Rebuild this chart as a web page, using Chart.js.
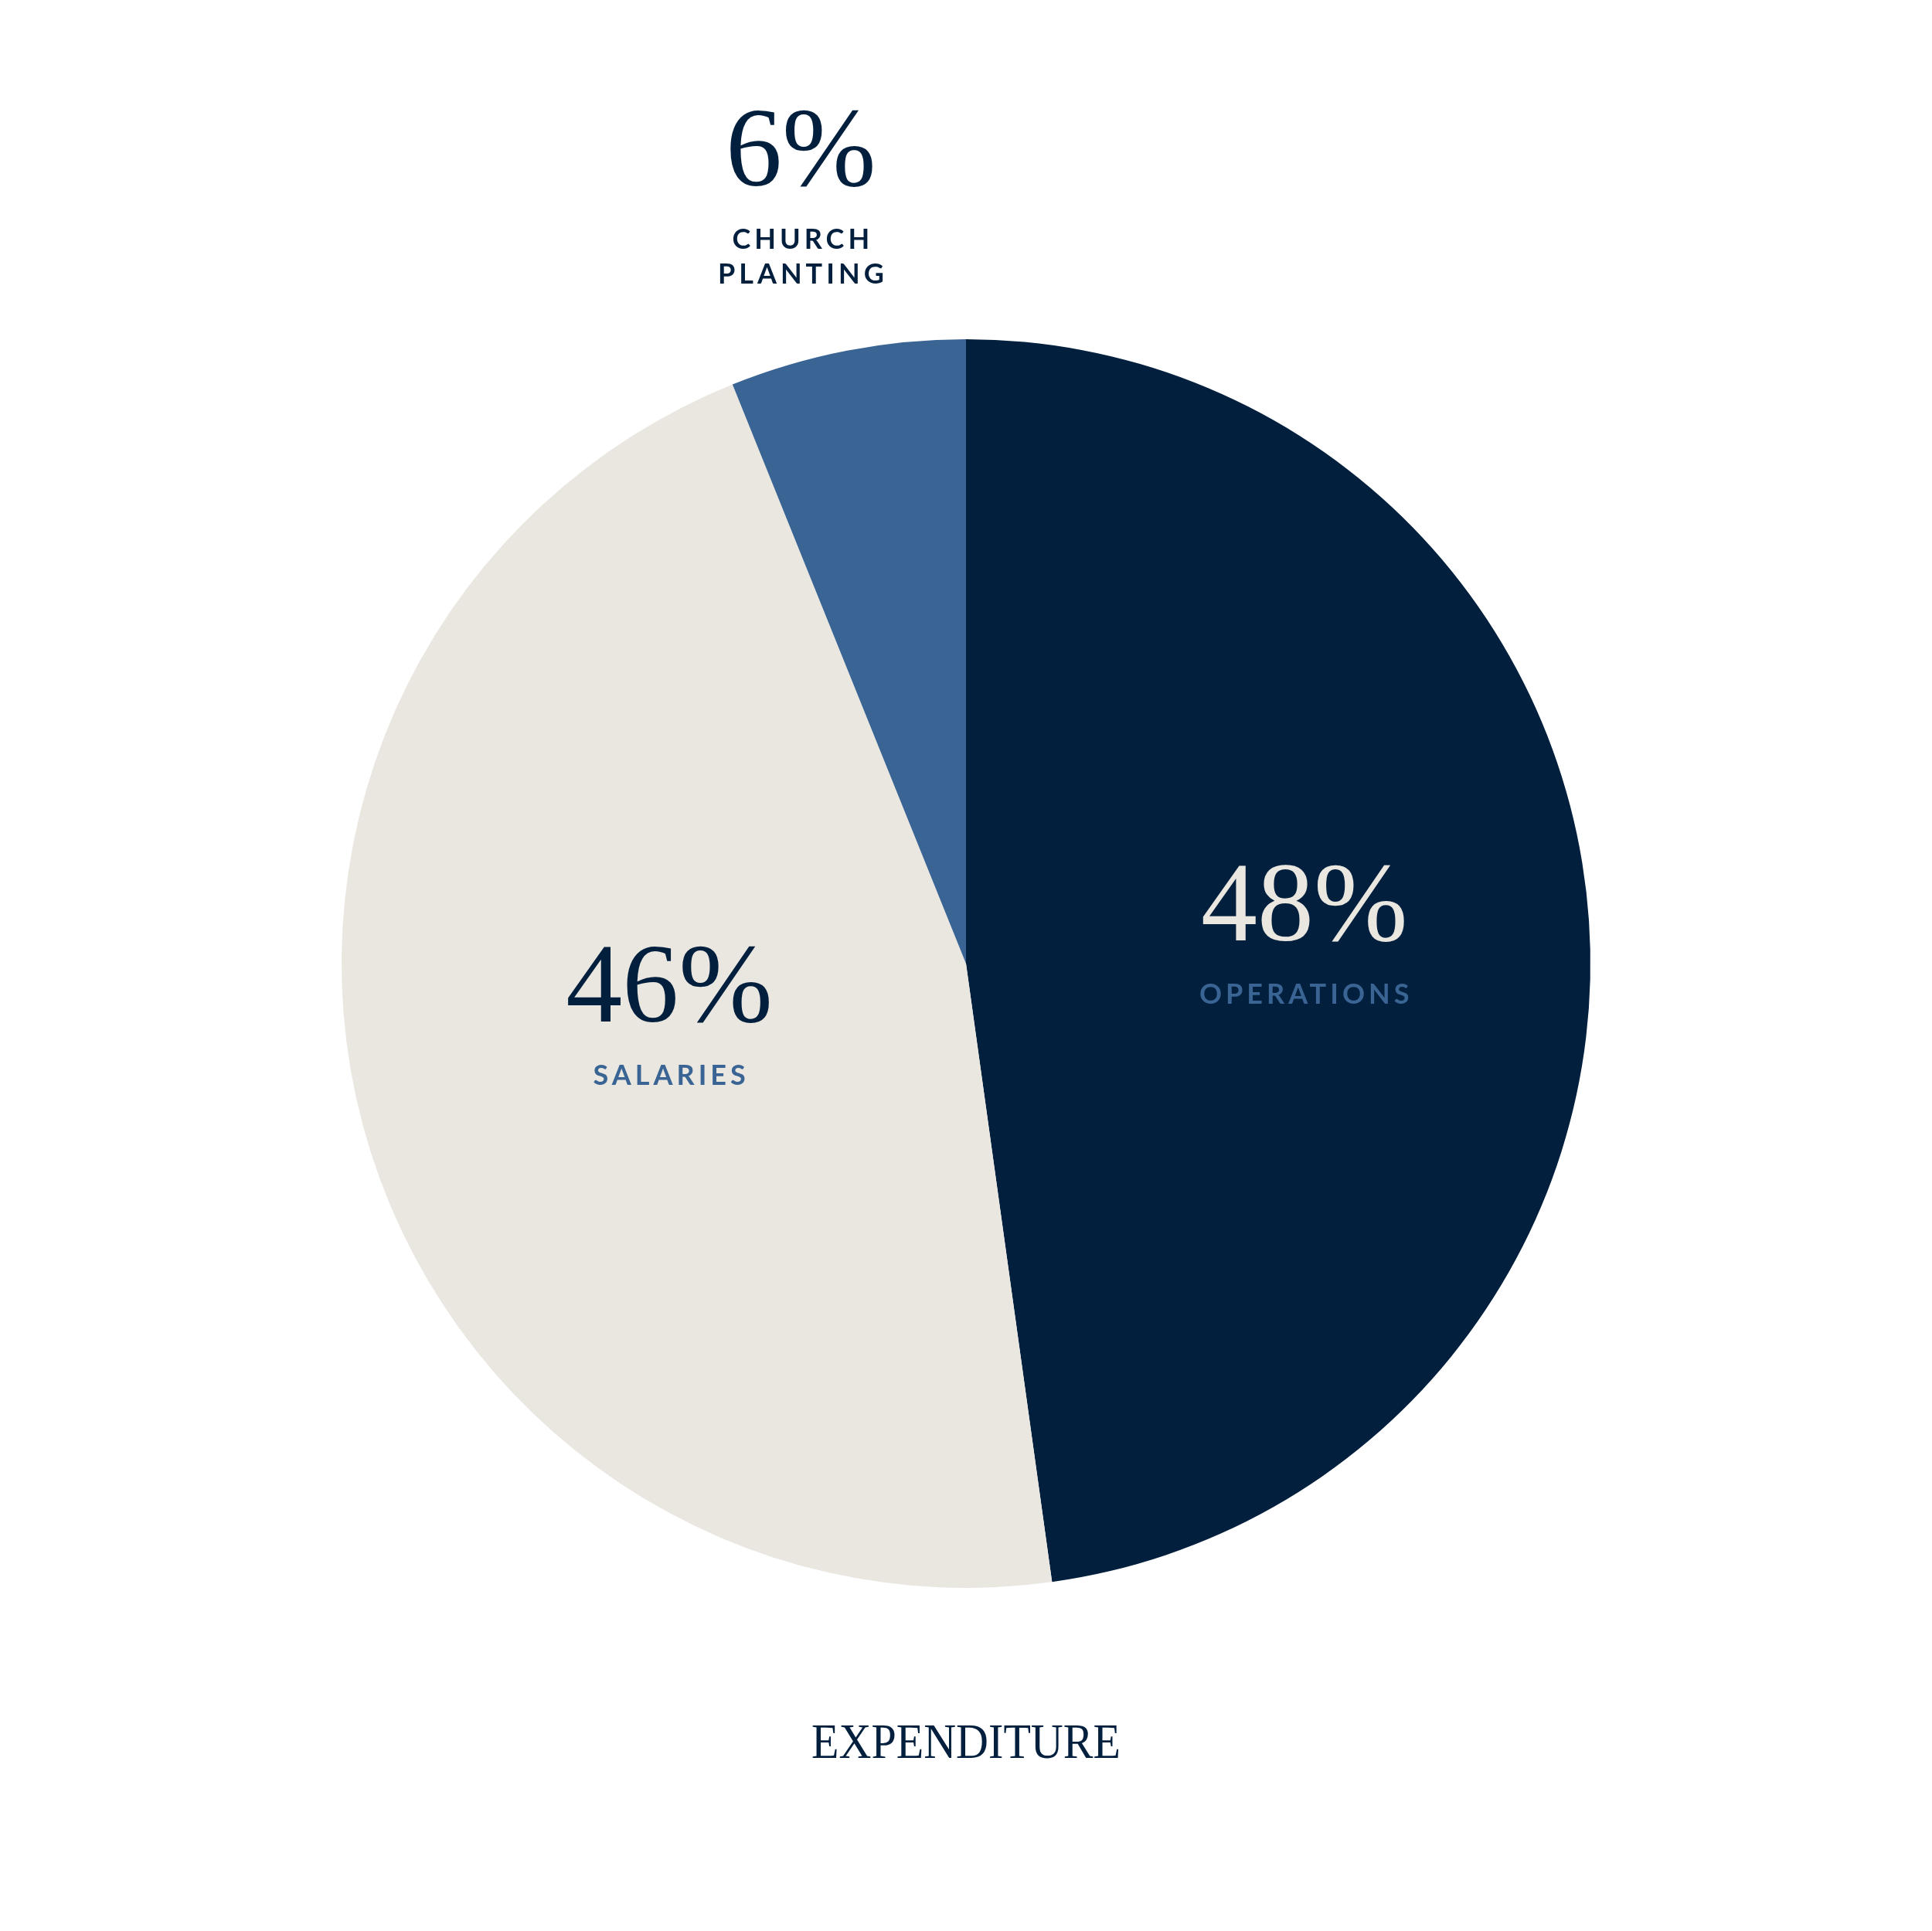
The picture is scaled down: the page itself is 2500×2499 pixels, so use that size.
<!DOCTYPE html>
<html>
<head>
<meta charset="utf-8">
<script src="https://cdn.jsdelivr.net/npm/chart.js@4.4.1/dist/chart.umd.min.js"></script>
<style>
  html, body { margin: 0; padding: 0; background: #ffffff; }
  #pie { display: block; }
</style>
</head>
<body>
<canvas id="pie" width="2500" height="2499"></canvas>
<script>
'use strict';

// data
var categories = ['OPERATIONS', 'SALARIES', 'CHURCH\nPLANTING'];
var values = [47.8, 46.1, 6.1];
var chartTitle = 'EXPENDITURE';

// styles
var sliceColors = ['#02203D', '#EAE7E1', '#3A6494'];
var pctColors = ['#EAE7E1', '#02203D', '#02203D'];
var catColors = ['#3A6494', '#3A6494', '#02203D'];
var labelRadius = [0.543, 0.484, 1.274];
var labelShift = [0, 3.9, -1.0]; // deg

var SERIF = "'Liberation Serif', 'DejaVu Serif', serif";
var SANS = "Lato, 'Open Sans', sans-serif";

// slice labels + title
var pieLabels = {
  id: 'pieLabels',
  afterDraw: function(chart) {
    var ctx = chart.ctx;
    var meta = chart.getDatasetMeta(0);
    ctx.save();
    ctx.textAlign = 'center';
    ctx.textBaseline = 'alphabetic';
    meta.data.forEach(function(arc, i) {
      var p = arc.getProps(['x', 'y', 'startAngle', 'endAngle', 'outerRadius'], true);
      var mid = (p.startAngle + p.endAngle) / 2 + labelShift[i] * Math.PI / 180;
      var r = p.outerRadius * labelRadius[i];
      var x = p.x + Math.cos(mid) * r;
      var y = p.y + Math.sin(mid) * r;

      ctx.fillStyle = pctColors[i];
      ctx.font = '146px ' + SERIF;
      ctx.letterSpacing = '0px';
      ctx.fillText(Math.round(values[i]) + '%', x, y);

      ctx.fillStyle = catColors[i];
      ctx.font = 'bold 36px ' + SANS;
      ctx.letterSpacing = '5px';
      categories[i].split('\n').forEach(function(line, j) {
        ctx.fillText(line, x + 2.5, y + 82 + j * 45);
      });
    });

    ctx.fillStyle = '#02203D';
    ctx.font = '64px ' + SERIF;
    ctx.letterSpacing = '0px';
    ctx.fillText(chartTitle, chart.width / 2, 2275, 400);
    ctx.restore();
  }
};

new Chart(document.getElementById('pie'), {
  type: 'pie',
  data: {
    labels: categories,
    datasets: [{
      data: values,
      backgroundColor: sliceColors,
      borderWidth: 0,
      hoverOffset: 0
    }]
  },
  options: {
    responsive: false,
    animation: false,
    maintainAspectRatio: false,
    devicePixelRatio: 1,
    layout: {
      padding: { left: 442, right: 442, top: 439, bottom: 444 }
    },
    plugins: {
      legend: { display: false },
      title: { display: false },
      tooltip: { enabled: false }
    }
  },
  plugins: [pieLabels]
});
</script>
</body>
</html>
